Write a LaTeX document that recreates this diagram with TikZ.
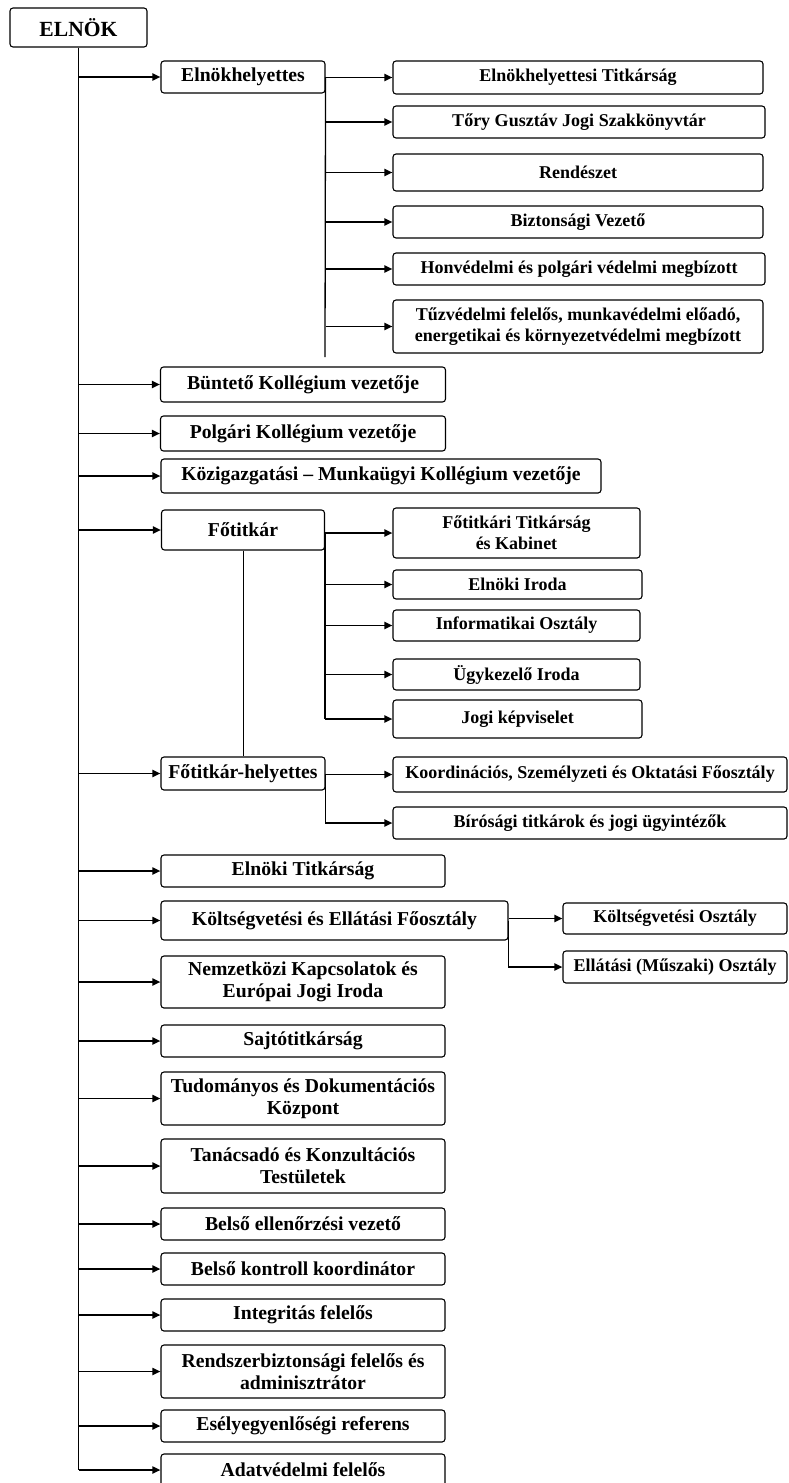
\documentclass[tikz,border=0pt]{standalone}
\usepackage{fontspec}
\setmainfont{Liberation Serif}
\usetikzlibrary{arrows.meta}

\begin{document}
\begin{tikzpicture}[x=1pt, y=-1pt,
        box/.style={draw, rounded corners=3pt, line width=1.1pt, align=center, inner sep=0pt,
            font=\fontsize{18}{21}\selectfont\bfseries},
        unitbox/.style={box, font=\fontsize{19.7}{22.5}\selectfont\bfseries},
        arr/.style={line width=1.8pt, -{Triangle[length=8pt,width=7pt]}},
        trunk/.style={line width=1.3pt},
        thinline/.style={line width=0.9pt}]
        \useasboundingbox (0,0) rectangle (788,1483);

        \node[box, minimum width=137pt, minimum height=39pt, font=\fontsize{21.6}{24}\selectfont\bfseries] (elnok) at (78.5,27.5) {ELNÖK};

        \node[unitbox, minimum width=164pt, minimum height=32pt] (ehely) at (243,77) {Elnökhelyettes};
        \node[box, minimum width=370pt, minimum height=33pt] (eh1) at (578,77.5) {Elnökhelyettesi Titkárság};
        \node[box, minimum width=372pt, minimum height=32pt] (eh2) at (579,122) {Tőry Gusztáv Jogi Szakkönyvtár};
        \node[box, minimum width=370pt, minimum height=37pt] (eh3) at (578,172.5) {Rendészet};
        \node[box, minimum width=370pt, minimum height=32pt] (eh4) at (578,222) {Biztonsági Vezető};
        \node[box, minimum width=372pt, minimum height=32pt] (eh5) at (579,269) {Honvédelmi és polgári védelmi megbízott};
        \node[box, minimum width=370pt, minimum height=53pt] (eh6) at (578,326.5) {Tűzvédelmi felelős, munkavédelmi előadó,\\energetikai és környezetvédelmi megbízott};
        \coordinate (ehend) at (325,357);

        \node[unitbox, minimum width=285pt, minimum height=35pt] (buntet) at (303,384.5) {Büntető Kollégium vezetője};
        \node[unitbox, minimum width=285pt, minimum height=35pt] (polg) at (303,433.5) {Polgári Kollégium vezetője};
        \node[unitbox, minimum width=440pt, minimum height=34pt] (kozig) at (381,476) {Közigazgatási – Munkaügyi Kollégium vezetője};

        \node[unitbox, minimum width=163pt, minimum height=40pt] (fotitk) at (243,530) {Főtitkár};
        \node[box, minimum width=247pt, minimum height=50pt] (ft1) at (516.5,533) {Főtitkári Titkárság\\és Kabinet};
        \node[box, minimum width=249pt, minimum height=29pt] (ft2) at (517.5,584.5) {Elnöki Iroda};
        \node[box, minimum width=247pt, minimum height=31pt] (ft3) at (516.5,625.5) {Informatikai Osztály};
        \node[box, minimum width=247pt, minimum height=31pt] (ft4) at (516.5,674.5) {Ügykezelő Iroda};
        \node[box, minimum width=249pt, minimum height=38pt] (ft5) at (517.5,719) {Jogi képviselet};

        \node[unitbox, minimum width=164pt, minimum height=33pt] (fhely) at (243,773.5) {Főtitkár-helyettes};
        \node[box, minimum width=394pt, minimum height=35pt] (fh1) at (590,774.5) {Koordinációs, Személyzeti és Oktatási Főosztály};
        \node[box, minimum width=394pt, minimum height=32pt] (fh2) at (590,823) {Bírósági titkárok és jogi ügyintézők};

        \node[unitbox, minimum width=284pt, minimum height=32pt] (elt) at (303,871) {Elnöki Titkárság};
        \node[unitbox, minimum width=347pt, minimum height=39pt] (kef) at (334.5,920.5) {Költségvetési és Ellátási Főosztály};
        \node[box, minimum width=224pt, minimum height=31pt] (ko) at (675,918.5) {Költségvetési Osztály};
        \node[box, minimum width=224pt, minimum height=32pt] (eo) at (675,967) {Ellátási (Műszaki) Osztály};
        \node[unitbox, minimum width=284pt, minimum height=52pt] (nemz) at (303,982) {Nemzetközi Kapcsolatok és\\Európai Jogi Iroda};
        \node[unitbox, minimum width=284pt, minimum height=32pt] (sajto) at (303,1041) {Sajtótitkárság};
        \node[unitbox, minimum width=284pt, minimum height=53pt] (tud) at (303,1098.5) {Tudományos és Dokumentációs\\Központ};
        \node[unitbox, minimum width=284pt, minimum height=54pt] (tan) at (303,1166) {Tanácsadó és Konzultációs\\Testületek};
        \node[unitbox, minimum width=284pt, minimum height=32pt] (bev) at (303,1224) {Belső ellenőrzési vezető};
        \node[unitbox, minimum width=284pt, minimum height=32pt] (bkk) at (303,1269) {Belső kontroll koordinátor};
        \node[unitbox, minimum width=284pt, minimum height=32pt] (integ) at (303,1315) {Integritás felelős};
        \node[unitbox, minimum width=284pt, minimum height=53pt] (rend) at (303,1371.5) {Rendszerbiztonsági felelős és\\adminisztrátor};
        \node[unitbox, minimum width=284pt, minimum height=32pt] (esely) at (303,1426) {Esélyegyenlőségi referens};
        \node[unitbox, minimum width=284pt, minimum height=32pt] (adat) at (303,1470) {Adatvédelmi felelős};

        \draw[trunk] (elnok.south) -- (elnok.south |- adat.west);
        \foreach \n in {ehely,buntet,polg,kozig,fotitk,fhely,elt,kef,nemz,sajto,tud,tan,bev,bkk,integ,rend,esely,adat}
            \draw[arr] (elnok.south |- \n.west) -- (\n.west);

        \draw[trunk] (ehely.east) -- (ehend);
        \foreach \n in {eh1,eh2,eh3,eh4,eh5,eh6}
            \draw[arr] (ehely.east |- \n.west) -- (\n.west);

        \draw[trunk] (fotitk.east |- ft1.west) -- (fotitk.east |- ft5.west);
        \foreach \n in {ft1,ft2,ft3,ft4,ft5}
            \draw[arr] (fotitk.east |- \n.west) -- (\n.west);
        \draw[thinline] (fotitk.south) -- (fhely.north);

        \draw[arr] (fhely.east |- fh1.west) -- (fh1.west);
        \draw[arr] (fhely.east) -- (fhely.east |- fh2.west) -- (fh2.west);

        \draw[arr] (kef.east |- ko.west) -- (ko.west);
        \draw[arr] (kef.east) -- (kef.east |- eo.west) -- (eo.west);
\end{tikzpicture}
\end{document}
